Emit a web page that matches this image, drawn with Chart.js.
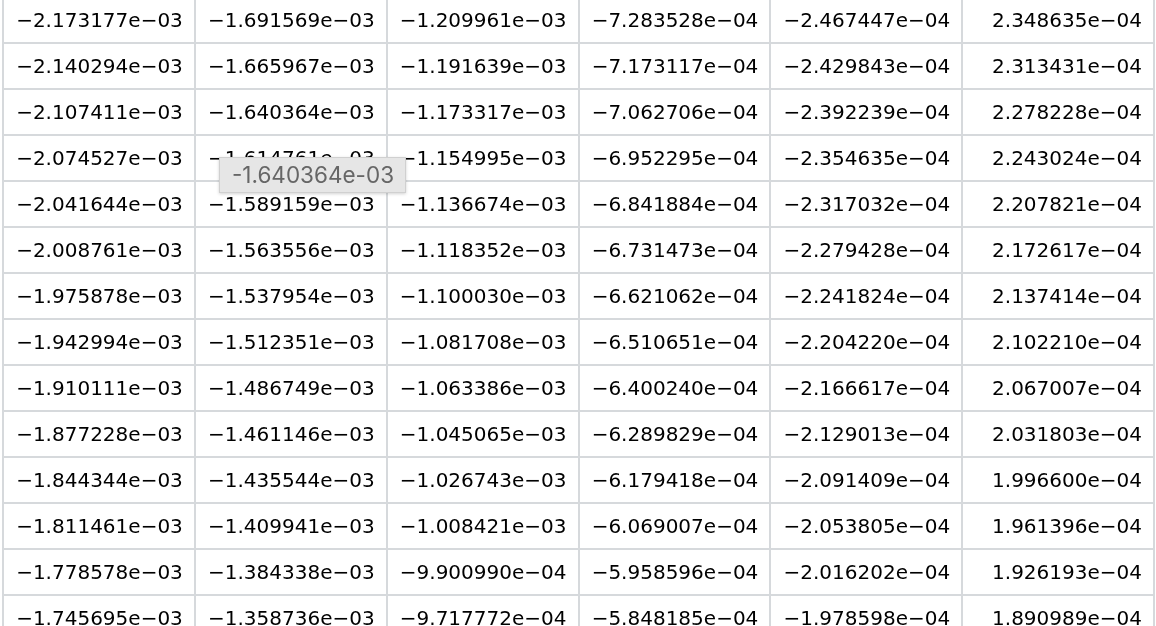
<!DOCTYPE html>
<html>
<head>
<meta charset="utf-8">
<script src="https://cdn.jsdelivr.net/npm/chart.js@4/dist/chart.umd.min.js"></script>
<style>
html, body { margin: 0; padding: 0; background: #fff; overflow: hidden; width: 1156px; height: 626px; }
#wrap { position: absolute; left: 0; top: -4px; width: 1156px; height: 660px; }
#tip {
  position: absolute; left: 219px; top: 157px; width: 187px; height: 36px;
  box-sizing: border-box; background: #e6e6e6; border: 1px solid #d0d0d0;
  box-shadow: 0 1px 3px rgba(0,0,0,.18); color: #666;
  font: 22.5px Inter, sans-serif; line-height: 34px; padding-left: 12px; white-space: nowrap;
}
</style>
</head>
<body>
<div id="wrap"><canvas id="grid"></canvas></div>
<div id="tip">-1.640364e-03</div>
<script>
// rows and columns of the table
const rows = ['1', '2', '3', '4', '5', '6', '7', '8', '9', '10', '11', '12', '13', '14'];
const columns = ['A', 'B', 'C', 'D', 'E', 'F'];

const colA = [-2.173177e-03, -2.140294e-03, -2.107411e-03, -2.074527e-03, -2.041644e-03, -2.008761e-03, -1.975878e-03,
              -1.942994e-03, -1.910111e-03, -1.877228e-03, -1.844344e-03, -1.811461e-03, -1.778578e-03, -1.745695e-03];
const colB = [-1.691569e-03, -1.665967e-03, -1.640364e-03, -1.614761e-03, -1.589159e-03, -1.563556e-03, -1.537954e-03,
              -1.512351e-03, -1.486749e-03, -1.461146e-03, -1.435544e-03, -1.409941e-03, -1.384338e-03, -1.358736e-03];
const colC = [-1.209961e-03, -1.191639e-03, -1.173317e-03, -1.154995e-03, -1.136674e-03, -1.118352e-03, -1.100030e-03,
              -1.081708e-03, -1.063386e-03, -1.045065e-03, -1.026743e-03, -1.008421e-03, -9.900990e-04, -9.717772e-04];
const colD = [-7.283528e-04, -7.173117e-04, -7.062706e-04, -6.952295e-04, -6.841884e-04, -6.731473e-04, -6.621062e-04,
              -6.510651e-04, -6.400240e-04, -6.289829e-04, -6.179418e-04, -6.069007e-04, -5.958596e-04, -5.848185e-04];
const colE = [-2.467447e-04, -2.429843e-04, -2.392239e-04, -2.354635e-04, -2.317032e-04, -2.279428e-04, -2.241824e-04,
              -2.204220e-04, -2.166617e-04, -2.129013e-04, -2.091409e-04, -2.053805e-04, -2.016202e-04, -1.978598e-04];
const colF = [2.348635e-04, 2.313431e-04, 2.278228e-04, 2.243024e-04, 2.207821e-04, 2.172617e-04, 2.137414e-04,
              2.102210e-04, 2.067007e-04, 2.031803e-04, 1.996600e-04, 1.961396e-04, 1.926193e-04, 1.890989e-04];

const cols = [colA, colB, colC, colD, colE, colF];

// -2.173177e-3  ->  −2.173177e−03
function fmt(v) {
  const parts = Math.abs(v).toExponential(6).split('e');
  const ex = parseInt(parts[1], 10);
  const exTxt = (ex < 0 ? '\u2212' : '+') + String(Math.abs(ex)).padStart(2, '0');
  return (v < 0 ? '\u2212' : '') + parts[0] + 'e' + exTxt;
}

// draws the number of each cell where the scales put its point
const cellText = {
  id: 'cellText',
  afterDatasetsDraw(chart) {
    const ctx = chart.ctx;
    const xs = chart.scales.x;
    const halfW = xs.width / columns.length / 2;
    ctx.save();
    ctx.font = '20px "DejaVu Sans"';
    ctx.fillStyle = '#000';
    ctx.textAlign = 'right';
    ctx.textBaseline = 'alphabetic';
    chart.data.datasets.forEach((ds, i) => {
      chart.getDatasetMeta(i).data.forEach((pt, j) => {
        ctx.fillText(fmt(ds.data[j].v), pt.x + halfW - 12, pt.y + 7);
      });
    });
    ctx.restore();
  }
};

const gridStyle = { offset: true, color: '#d6d9dc', lineWidth: 2, drawTicks: false };

new Chart(document.getElementById('grid'), {
  type: 'scatter',
  data: {
    datasets: cols.map((c, i) => ({
      label: columns[i],
      data: c.map((v, j) => ({ x: columns[i], y: rows[j], v: v })),
      pointRadius: 0
    }))
  },
  options: {
    responsive: true,
    maintainAspectRatio: false,
    animation: false,
    events: [],
    layout: { padding: { left: 3, right: 2, top: 1, bottom: 15 } },
    scales: {
      x: { type: 'category', labels: columns, offset: true, position: 'top',
           grid: gridStyle, border: { display: false }, ticks: { display: false } },
      y: { type: 'category', labels: rows, offset: true,
           grid: gridStyle, border: { display: false }, ticks: { display: false } }
    },
    plugins: { legend: { display: false }, tooltip: { enabled: false } }
  },
  plugins: [cellText]
});
</script>
</body>
</html>
